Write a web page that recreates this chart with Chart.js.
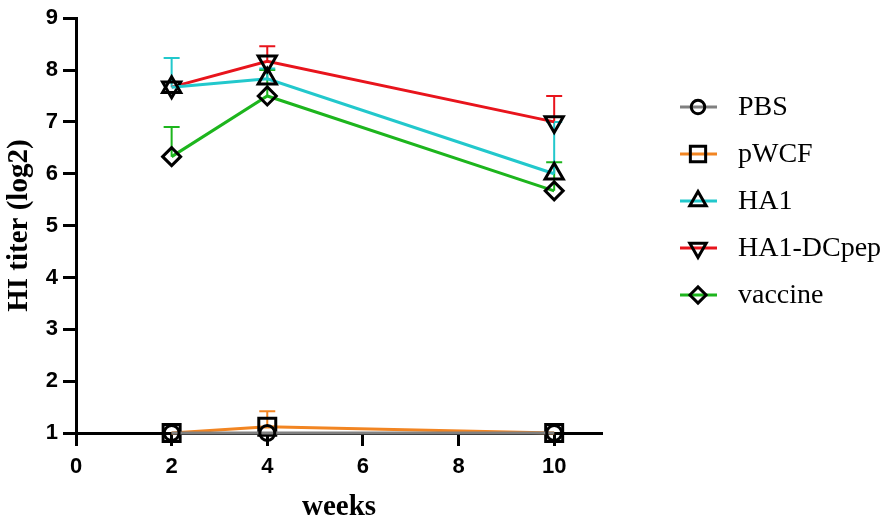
<!DOCTYPE html>
<html><head><meta charset="utf-8">
<script src="https://cdn.jsdelivr.net/npm/chart.js@4"></script>
<style>html,body{margin:0;padding:0;background:#fff}#wrap{width:886px;height:522px;position:relative}</style>
</head><body><div id="wrap"><canvas id="c"></canvas></div>
<script>
// ---- data ----
const weeks = [2, 4, 10];
const seriesNames = ['PBS', 'pWCF', 'HA1', 'HA1-DCpep', 'vaccine'];
const pbs = [1, 1, 1];
const pwcf = [1, 1.12, 1];
const ha1 = [7.67, 7.83, 6.0];
const ha1dc = [7.67, 8.17, 7.0];
const vaccine = [6.33, 7.5, 5.67];
const pbsErr = [0, 0, 0];
const pwcfErr = [0, 0.3, 0];
const ha1Err = [0.56, 0.2, 1.0];
const ha1dcErr = [0, 0.29, 0.5];
const vaccineErr = [0.57, 0.5, 0.55];
const xTicks = [0, 2, 4, 6, 8, 10];
const yTicks = [1, 2, 3, 4, 5, 6, 7, 8, 9];

// ---- styles ----
const colors = ['#808080', '#F28522', '#22C8CC', '#E8141C', '#1DB51D'];
const styles = [
  {pointStyle: 'circle', radius: 7.5, rotation: 0},
  {pointStyle: 'rect', radius: 12, rotation: 0},
  {pointStyle: 'triangle', radius: 10.5, rotation: 0},
  {pointStyle: 'triangle', radius: 10.5, rotation: 180},
  {pointStyle: 'rectRot', radius: 9, rotation: 0}
];
const values = [pbs, pwcf, ha1, ha1dc, vaccine];
const errs = [pbsErr, pwcfErr, ha1Err, ha1dcErr, vaccineErr];

const datasets = seriesNames.map((name, i) => ({
  label: name,
  data: weeks.map((w, j) => ({x: w, y: values[i][j]})),
  err: errs[i],
  borderColor: colors[i],
  borderWidth: 3,
  pointStyle: styles[i].pointStyle,
  pointRadius: styles[i].radius,
  pointHoverRadius: styles[i].radius,
  pointRotation: styles[i].rotation,
  pointBorderColor: '#000',
  pointBackgroundColor: 'rgba(0,0,0,0)',
  pointBorderWidth: 3,
  tension: 0,
  clip: false
}));

const errorBars = {
  id: 'errorBars',
  beforeDatasetsDraw(chart) {
    const ctx = chart.ctx, xs = chart.scales.x, ys = chart.scales.y;
    ctx.save();
    for (let i = chart.data.datasets.length - 1; i >= 0; i--) {
      const ds = chart.data.datasets[i];
      ds.data.forEach((p, j) => {
        const e = ds.err[j];
        if (!e) return;
        const px = xs.getPixelForValue(p.x);
        const y0 = ys.getPixelForValue(p.y);
        const y1 = ys.getPixelForValue(p.y + e);
        ctx.strokeStyle = ds.borderColor;
        ctx.lineWidth = 2;
        ctx.beginPath();
        ctx.moveTo(px, y0); ctx.lineTo(px, y1);
        ctx.moveTo(px - 8, y1); ctx.lineTo(px + 8, y1);
        ctx.stroke();
      });
    }
    ctx.restore();
  }
};

const customLegend = {
  id: 'customLegend',
  afterDraw(chart) {
    const ctx = chart.ctx;
    ctx.save();
    const x0 = 680, x1 = 717, xm = 698, xt = 738, ytop = 107, dy = 47;
    chart.data.datasets.forEach((ds, i) => {
      const y = ytop + i * dy;
      ctx.strokeStyle = ds.borderColor;
      ctx.lineWidth = 3;
      ctx.beginPath(); ctx.moveTo(x0, y); ctx.lineTo(x1, y); ctx.stroke();
      ctx.strokeStyle = '#000';
      ctx.fillStyle = 'rgba(0,0,0,0)';
      ctx.lineWidth = 3;
      Chart.helpers.drawPoint(ctx, {pointStyle: ds.pointStyle, radius: ds.pointRadius * 0.9, rotation: ds.pointRotation, borderWidth: 3}, xm, y);
      ctx.fillStyle = '#000';
      ctx.font = '28px "Liberation Serif"';
      ctx.textAlign = 'left';
      ctx.textBaseline = 'middle';
      ctx.fillText(ds.label, xt, y + 1);
    });
    ctx.restore();
  }
};

const tickFont = {family: '"Liberation Sans", Arial, sans-serif', size: 22, weight: 'bold'};
const titleFont = {family: '"Liberation Serif", "Times New Roman", serif', size: 29, weight: 'bold', lineHeight: 1};

new Chart(document.getElementById('c'), {
  type: 'line',
  data: {datasets},
  options: {
    responsive: true,
    maintainAspectRatio: false,
    animation: false,
    devicePixelRatio: 1,
    layout: {padding: {top: 10, right: 284, left: 0, bottom: 0}},
    plugins: {legend: {display: false}, tooltip: {enabled: false}},
    scales: {
      x: {
        type: 'linear', min: 0, max: 11,
        afterBuildTicks: s => { s.ticks = xTicks.map(v => ({value: v})); },
        afterFit: s => { s.height = 89; },
        ticks: {font: tickFont, color: '#000', padding: 8, maxRotation: 0},
        grid: {drawOnChartArea: false, drawTicks: true, tickLength: 13, tickWidth: 3, tickColor: '#000'},
        border: {display: true, width: 3, color: '#000'},
        title: {display: true, text: 'weeks', font: titleFont, color: '#000', padding: {top: -3, bottom: 0}}
      },
      y: {
        type: 'linear', min: 1, max: 9,
        afterBuildTicks: s => { s.ticks = yTicks.map(v => ({value: v})); },
        afterFit: s => { s.width = 76; },
        ticks: {font: tickFont, color: '#000', padding: 5},
        grid: {drawOnChartArea: false, drawTicks: true, tickLength: 13, tickWidth: 3, tickColor: '#000'},
        border: {display: true, width: 3, color: '#000'},
        title: {display: true, text: 'HI titer (log2)', font: titleFont, color: '#000', padding: {top: 5, bottom: 0}}
      }
    }
  },
  plugins: [errorBars, customLegend]
});
</script>
</body></html>
